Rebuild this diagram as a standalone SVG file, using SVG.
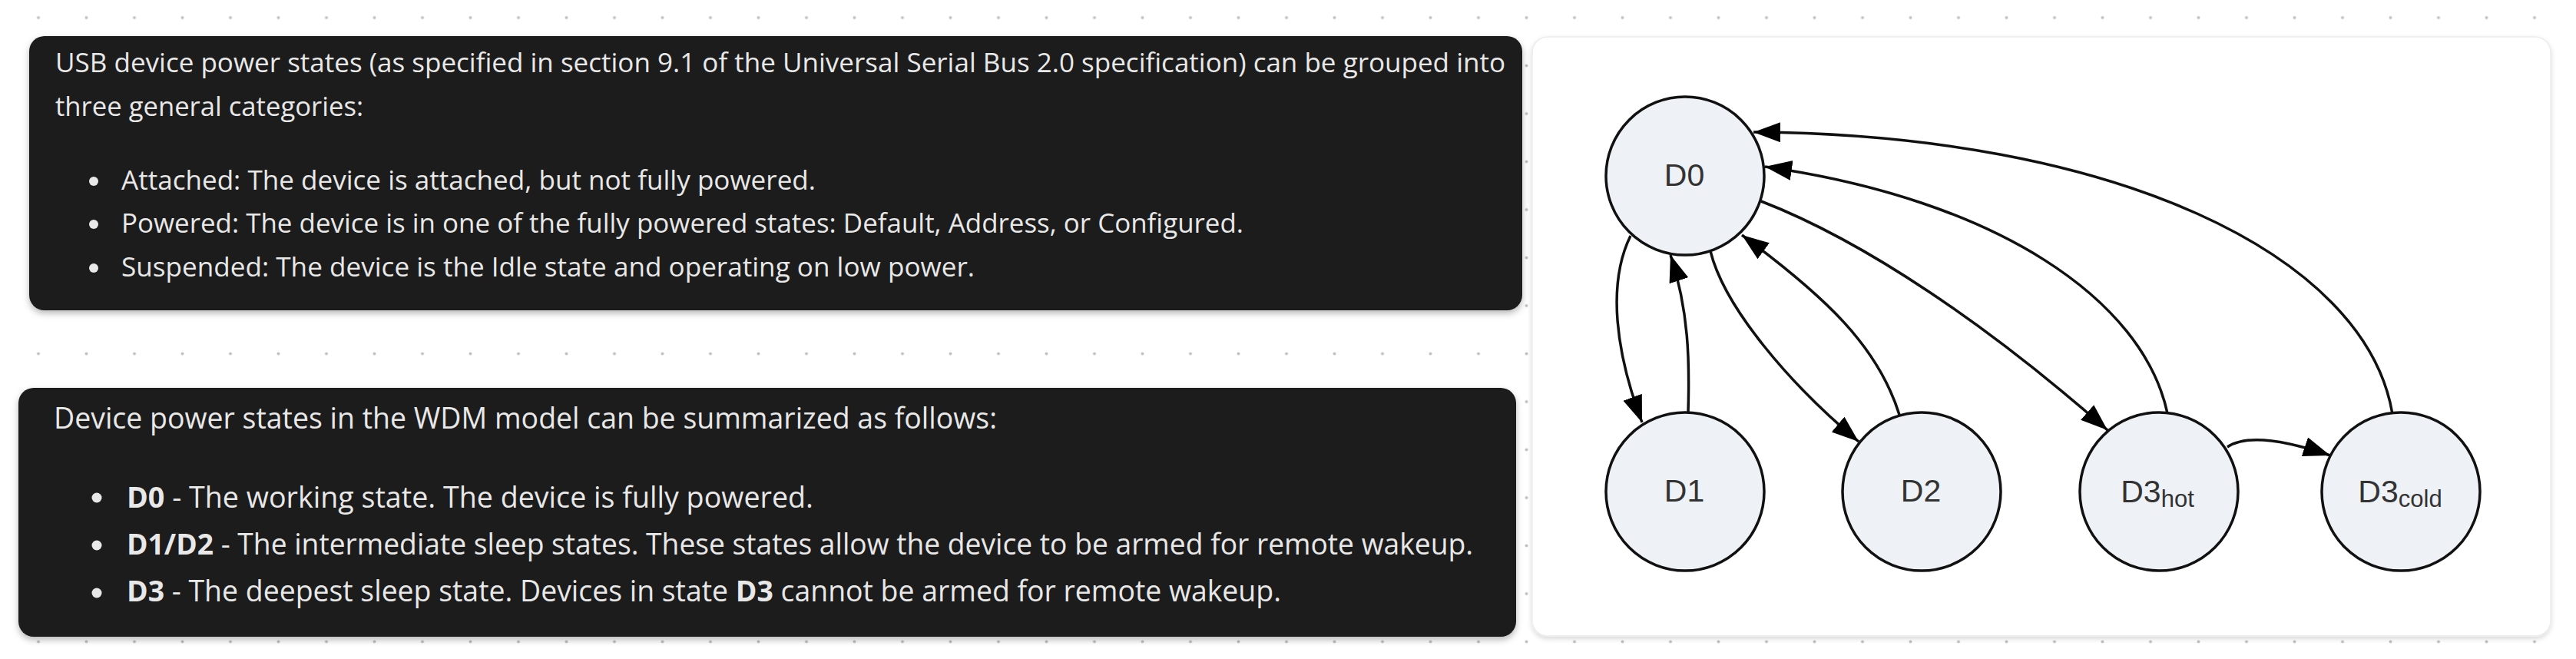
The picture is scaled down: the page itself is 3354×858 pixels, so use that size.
<svg xmlns="http://www.w3.org/2000/svg" width="3354" height="858" viewBox="0 0 3354 858">
<defs>
<pattern id="grid" patternUnits="userSpaceOnUse" x="18.75" y="-8.25" width="62.5" height="62.5">
<circle cx="31.25" cy="31.25" r="2" fill="#c2c2c2"/>
</pattern>
<filter id="shadow" x="-5%" y="-10%" width="110%" height="125%">
<feDropShadow dx="0" dy="4" stdDeviation="4" flood-color="#000" flood-opacity="0.28"/>
</filter>
<filter id="cardshadow" x="-5%" y="-10%" width="110%" height="125%">
<feDropShadow dx="0" dy="3" stdDeviation="3" flood-color="#000" flood-opacity="0.15"/>
</filter>
<marker id="arrow" markerUnits="userSpaceOnUse" markerWidth="38" markerHeight="28" refX="35" refY="13" orient="auto">
<path d="M0,0 L35,13 L0,26 z" fill="#000"/>
</marker>
<style>
.panel{fill:#1a1a1a;filter:url(#shadow)}
.t1{font-family:"Open Sans","Noto Sans","DejaVu Sans",sans-serif;font-size:35px;fill:#e8e8e8}
.t2{font-family:"Open Sans","Noto Sans","DejaVu Sans",sans-serif;font-size:38px;fill:#e8e8e8}
.b{font-weight:bold}
.dot{fill:#e8e8e8}
.node{fill:#eef1f6;stroke:#111;stroke-width:3.5}
.lbl{font-family:"Liberation Sans",Arial,sans-serif;font-size:41px;fill:#333;text-anchor:middle}
.sub{font-size:31px}
.edge{fill:none;stroke:#111;stroke-width:3.5;marker-end:url(#arrow)}
</style>
</defs>
<rect width="3354" height="858" fill="#fff"/>
<rect width="3354" height="858" fill="url(#grid)"/>

<g id="usb-panel">
<rect class="panel" x="38" y="47" width="1944" height="357" rx="20"/>
<text class="t1" x="72" y="94" textLength="1888" lengthAdjust="spacingAndGlyphs">USB device power states (as specified in section 9.1 of the Universal Serial Bus 2.0 specification) can be grouped into</text>
<text class="t1" x="72" y="151" textLength="401" lengthAdjust="spacingAndGlyphs">three general categories:</text>
<circle class="dot" cx="122" cy="236" r="6"/>
<text class="t1" x="158" y="247" textLength="904" lengthAdjust="spacingAndGlyphs">Attached: The device is attached, but not fully powered.</text>
<circle class="dot" cx="122" cy="292" r="6"/>
<text class="t1" x="158" y="303" textLength="1461" lengthAdjust="spacingAndGlyphs">Powered: The device is in one of the fully powered states: Default, Address, or Configured.</text>
<circle class="dot" cx="122" cy="349" r="6"/>
<text class="t1" x="158" y="360" textLength="1111" lengthAdjust="spacingAndGlyphs">Suspended: The device is the Idle state and operating on low power.</text>
</g>

<g id="wdm-panel">
<rect class="panel" x="24" y="505" width="1950" height="324" rx="20"/>
<text class="t2" x="70" y="558" textLength="1228" lengthAdjust="spacingAndGlyphs">Device power states in the WDM model can be summarized as follows:</text>
<circle class="dot" cx="126" cy="648" r="6.5"/>
<text class="t2" x="165" y="661" textLength="894" lengthAdjust="spacingAndGlyphs"><tspan class="b">D0</tspan> - The working state. The device is fully powered.</text>
<circle class="dot" cx="126" cy="710" r="6.5"/>
<text class="t2" x="165" y="722" textLength="1753" lengthAdjust="spacingAndGlyphs"><tspan class="b">D1/D2</tspan> - The intermediate sleep states. These states allow the device to be armed for remote wakeup.</text>
<circle class="dot" cx="126" cy="772" r="6.5"/>
<text class="t2" x="165" y="783" textLength="1503" lengthAdjust="spacingAndGlyphs"><tspan class="b">D3</tspan> - The deepest sleep state. Devices in state <tspan class="b">D3</tspan> cannot be armed for remote wakeup.</text>
</g>

<g id="diagram-card">
<rect x="1995" y="48" width="1326" height="780" rx="20" fill="#fff" stroke="#ececec" stroke-width="1.5" filter="url(#cardshadow)"/>
</g>

<g id="connectors">
<path class="edge" d="M2123,307 C2092,370 2104,460 2138,550"/>
<path class="edge" d="M2198,537 C2200,470 2199,405 2175,332"/>
<path class="edge" d="M2227,327 C2245,400 2330,500 2420,575"/>
<path class="edge" d="M2473,540 C2445,450 2375,385 2268,306"/>
<path class="edge" d="M2293,262 C2430,315 2590,425 2744,560"/>
<path class="edge" d="M2822,538 C2790,390 2600,260 2298,217"/>
<path class="edge" d="M3115,539 C3080,330 2750,175 2283,172"/>
<path class="edge" d="M2900,582 C2925,565 2975,573 3034,593"/>
</g>

<g id="node-D0">
<circle class="node" cx="2194" cy="229" r="103"/>
<text class="lbl" x="2193" y="242">D0</text>
</g>
<g id="node-D1">
<circle class="node" cx="2194" cy="640" r="103"/>
<text class="lbl" x="2193" y="653">D1</text>
</g>
<g id="node-D2">
<circle class="node" cx="2502" cy="640" r="103"/>
<text class="lbl" x="2501" y="653">D2</text>
</g>
<g id="node-D3hot">
<circle class="node" cx="2811" cy="640" r="103"/>
<text class="lbl" x="2809" y="654">D3<tspan class="sub" dy="6">hot</tspan></text>
</g>
<g id="node-D3cold">
<circle class="node" cx="3126" cy="640" r="103"/>
<text class="lbl" x="3125" y="654">D3<tspan class="sub" dy="6">cold</tspan></text>
</g>
</svg>
